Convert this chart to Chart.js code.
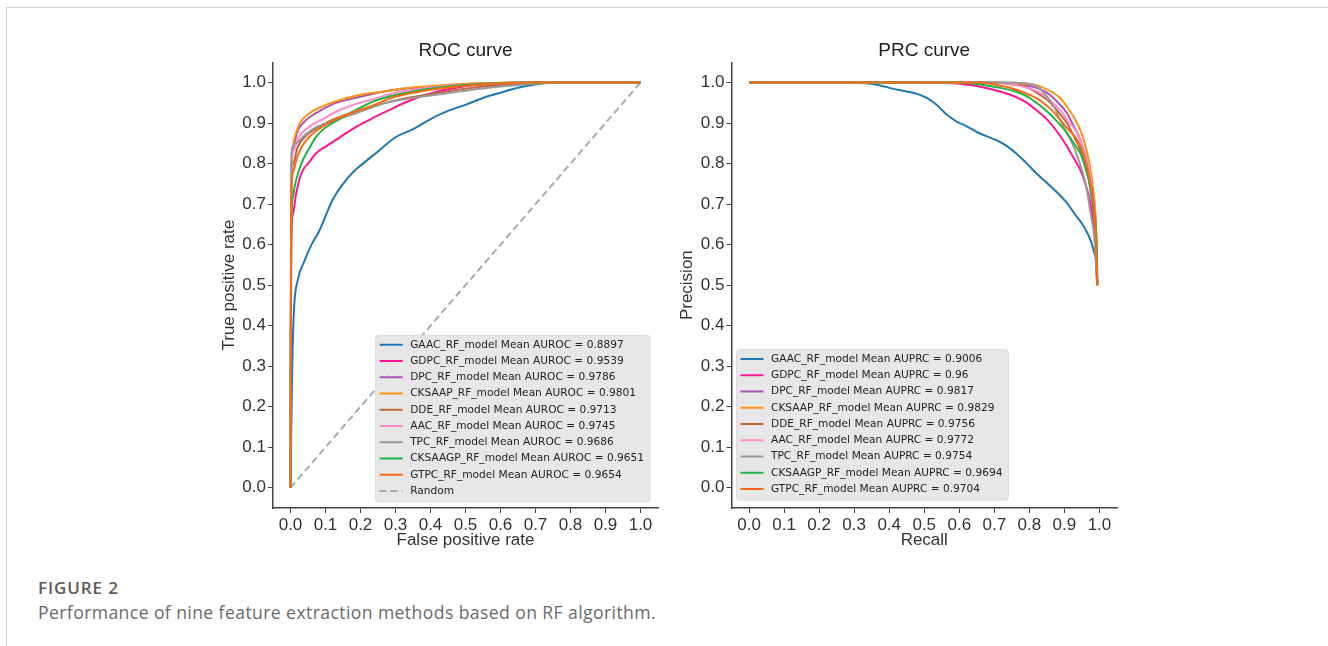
<!DOCTYPE html>
<html>
<head>
<meta charset="utf-8">
<script src="https://cdn.jsdelivr.net/npm/chart.js@4.4.1/dist/chart.umd.min.js"></script>
<style>
  html, body { margin: 0; padding: 0; background: #fff; }
  body { width: 1328px; height: 646px; position: relative; overflow: hidden; }
  .frame { position: absolute; left: 6px; top: 7px; right: 0; bottom: 0; border-top: 1px solid #d2d2d2; border-left: 1px solid #d2d2d2; }
  canvas { position: absolute; }
  #roc { left: 180px; top: 20px; }
  #prc { left: 640px; top: 20px; }
  .fig-no { position: absolute; left: 38px; top: 578px; font: 600 17px/20px "Open Sans", sans-serif; letter-spacing: 0.9px; color: #5a5a5a; }
  .fig-cap { position: absolute; left: 38px; top: 602px; font: 400 17.6px/20px "Open Sans", sans-serif; letter-spacing: 0.4px; color: #6a6a6a; }
</style>
</head>
<body>
<div class="frame"></div>
<canvas id="roc" width="500" height="540"></canvas>
<canvas id="prc" width="500" height="540"></canvas>
<div class="fig-no">FIGURE 2</div>
<div class="fig-cap">Performance of nine feature extraction methods based on RF algorithm.</div>
<script>
// --- DATA ---
const METHODS = ['GAAC', 'GDPC', 'DPC', 'CKSAAP', 'DDE', 'AAC', 'TPC', 'CKSAAGP', 'GTPC'];
const MEAN_AUROC = ['0.8897', '0.9539', '0.9786', '0.9801', '0.9713', '0.9745', '0.9686', '0.9651', '0.9654'];
const MEAN_AUPRC = ['0.9006', '0.96', '0.9817', '0.9829', '0.9756', '0.9772', '0.9754', '0.9694', '0.9704'];
const TICKS = [0.0, 0.1, 0.2, 0.3, 0.4, 0.5, 0.6, 0.7, 0.8, 0.9, 1.0];

// ROC curves: [false positive rate, true positive rate]
const rocGAAC = [[0,0],[0.005,0.3],[0.01,0.44],[0.02,0.51],[0.04,0.56],[0.06,0.6],[0.08,0.63],[0.1,0.67],[0.12,0.71],[0.15,0.75],[0.18,0.78],[0.2,0.795],[0.25,0.83],[0.3,0.865],[0.35,0.885],[0.4,0.91],[0.45,0.93],[0.5,0.945],[0.55,0.962],[0.6,0.975],[0.65,0.987],[0.7,0.995],[0.75,1],[1,1]];
const rocGDPC = [[0,0],[0.002,0.6],[0.008,0.68],[0.015,0.72],[0.025,0.76],[0.036,0.785],[0.05,0.8],[0.074,0.826],[0.1,0.842],[0.131,0.859],[0.16,0.876],[0.19,0.892],[0.23,0.91],[0.265,0.925],[0.3,0.94],[0.34,0.955],[0.38,0.968],[0.42,0.978],[0.46,0.985],[0.5,0.991],[0.6,0.997],[0.7,1],[1,1]];
const rocDPC = [[0,0],[0.002,0.75],[0.008,0.84],[0.02,0.88],[0.036,0.9],[0.055,0.915],[0.074,0.925],[0.1,0.938],[0.13,0.95],[0.19,0.963],[0.25,0.975],[0.3,0.982],[0.4,0.99],[0.5,0.996],[0.6,0.999],[0.7,1],[1,1]];
const rocCKSAAP = [[0,0],[0.002,0.76],[0.006,0.84],[0.012,0.865],[0.027,0.9],[0.055,0.925],[0.093,0.942],[0.13,0.954],[0.19,0.968],[0.265,0.978],[0.34,0.987],[0.42,0.993],[0.5,0.997],[0.6,0.999],[0.7,1],[1,1]];
const rocDDE = [[0,0],[0.002,0.74],[0.008,0.8],[0.02,0.84],[0.04,0.865],[0.07,0.885],[0.1,0.9],[0.15,0.918],[0.2,0.932],[0.25,0.945],[0.3,0.956],[0.4,0.972],[0.5,0.985],[0.6,0.994],[0.7,0.999],[0.8,1],[1,1]];
const rocAAC = [[0,0],[0.002,0.77],[0.008,0.83],[0.02,0.86],[0.036,0.878],[0.06,0.895],[0.093,0.91],[0.13,0.928],[0.17,0.942],[0.22,0.955],[0.26,0.965],[0.3,0.975],[0.4,0.988],[0.5,0.995],[0.6,0.999],[0.7,1],[1,1]];
const rocTPC = [[0,0],[0.003,0.83],[0.015,0.85],[0.036,0.867],[0.074,0.89],[0.13,0.908],[0.19,0.925],[0.265,0.948],[0.3,0.955],[0.4,0.968],[0.5,0.98],[0.6,0.99],[0.7,0.997],[0.8,1],[1,1]];
const rocCKSAAGP = [[0,0],[0.002,0.65],[0.008,0.72],[0.012,0.744],[0.025,0.785],[0.036,0.81],[0.055,0.84],[0.074,0.867],[0.09,0.882],[0.112,0.896],[0.14,0.91],[0.17,0.925],[0.2,0.938],[0.227,0.95],[0.284,0.966],[0.35,0.978],[0.45,0.99],[0.55,0.997],[0.65,1],[1,1]];
const rocGTPC = [[0,0],[0.002,0.72],[0.008,0.78],[0.017,0.81],[0.035,0.845],[0.055,0.867],[0.093,0.892],[0.15,0.917],[0.227,0.941],[0.303,0.966],[0.4,0.982],[0.5,0.992],[0.6,0.998],[0.7,1],[1,1]];
const rocRandom = [[0,0],[1,1]];

// PR curves: [recall, precision]
const prcGAAC = [[0,1],[0.1,1],[0.2,1],[0.3,0.999],[0.336,0.998],[0.374,0.993],[0.41,0.985],[0.45,0.978],[0.48,0.972],[0.507,0.962],[0.535,0.945],[0.564,0.921],[0.59,0.905],[0.621,0.892],[0.65,0.878],[0.679,0.867],[0.71,0.856],[0.736,0.843],[0.765,0.823],[0.793,0.8],[0.82,0.776],[0.85,0.752],[0.88,0.728],[0.907,0.703],[0.93,0.675],[0.955,0.645],[0.975,0.61],[0.985,0.58],[0.99,0.56],[0.993,0.5]];
const prcGDPC = [[0,1],[0.5,1],[0.584,0.998],[0.62,0.995],[0.67,0.988],[0.717,0.978],[0.76,0.965],[0.793,0.95],[0.82,0.932],[0.85,0.909],[0.88,0.878],[0.907,0.843],[0.93,0.808],[0.945,0.785],[0.96,0.75],[0.974,0.703],[0.985,0.64],[0.992,0.56],[0.994,0.5]];
const prcDPC = [[0,1],[0.7,1],[0.78,0.995],[0.82,0.987],[0.85,0.975],[0.88,0.952],[0.907,0.925],[0.925,0.895],[0.945,0.859],[0.955,0.825],[0.964,0.785],[0.975,0.73],[0.985,0.66],[0.994,0.5]];
const prcCKSAAP = [[0,1],[0.7,1],[0.77,0.998],[0.81,0.995],[0.84,0.987],[0.867,0.975],[0.89,0.96],[0.907,0.941],[0.93,0.91],[0.945,0.884],[0.958,0.85],[0.969,0.81],[0.977,0.77],[0.983,0.728],[0.99,0.65],[0.994,0.5]];
const prcDDE = [[0,1],[0.7,1],[0.75,0.995],[0.79,0.99],[0.82,0.975],[0.85,0.958],[0.88,0.93],[0.907,0.9],[0.93,0.862],[0.945,0.835],[0.96,0.79],[0.974,0.744],[0.985,0.67],[0.994,0.5]];
const prcAAC = [[0,1],[0.7,1],[0.78,0.99],[0.83,0.975],[0.86,0.955],[0.887,0.933],[0.91,0.905],[0.936,0.876],[0.95,0.845],[0.964,0.81],[0.975,0.76],[0.983,0.711],[0.99,0.64],[0.994,0.5]];
const prcTPC = [[0,1],[0.75,1],[0.81,0.995],[0.83,0.985],[0.85,0.966],[0.87,0.94],[0.887,0.909],[0.905,0.878],[0.926,0.843],[0.94,0.81],[0.955,0.769],[0.965,0.73],[0.974,0.68],[0.985,0.62],[0.994,0.5]];
const prcCKSAAGP = [[0,1],[0.6,1],[0.65,0.996],[0.717,0.987],[0.76,0.978],[0.793,0.966],[0.82,0.95],[0.85,0.929],[0.88,0.903],[0.907,0.876],[0.93,0.846],[0.945,0.826],[0.96,0.79],[0.974,0.744],[0.985,0.68],[0.992,0.6],[0.994,0.5]];
const prcGTPC = [[0,1],[0.65,1],[0.72,0.992],[0.76,0.983],[0.8,0.97],[0.827,0.958],[0.86,0.935],[0.887,0.909],[0.91,0.885],[0.936,0.859],[0.952,0.83],[0.964,0.794],[0.975,0.75],[0.983,0.711],[0.99,0.62],[0.994,0.5]];

const ROC_CURVES = [rocGAAC, rocGDPC, rocDPC, rocCKSAAP, rocDDE, rocAAC, rocTPC, rocCKSAAGP, rocGTPC];
const PRC_CURVES = [prcGAAC, prcGDPC, prcDPC, prcCKSAAP, prcDDE, prcAAC, prcTPC, prcCKSAAGP, prcGTPC];

// --- STYLE ---
const COLORS = ['#1f77b4', '#ff1493', '#a855b5', '#ff9214', '#b86a3c', '#ff8ccb', '#9a9a9a', '#1fb445', '#f96b14'];
const RANDOM_COLOR = '#aaaaaa';
const TEXT_COLOR = '#333';
const AXIS_FONT = 'Liberation Sans';

const toXY = pts => pts.map(p => ({ x: p[0], y: p[1] }));

// legend drawn inside the plot, matplotlib style
const legendBox = {
  id: 'legendBox',
  afterDatasetsDraw(chart, args, opts) {
    const { ctx, chartArea } = chart;
    const items = chart.data.datasets;
    ctx.save();
    ctx.font = '10.6px "DejaVu Sans"';
    const textW = Math.max(...items.map(d => ctx.measureText(d.label).width));
    const rowH = 16.25;
    const w = 4 + 23 + 7.5 + textW + 6;
    const h = 9.5 + rowH * (items.length - 1) + 11;
    const x = opts.side === 'right' ? chartArea.right - opts.inset - w : chartArea.left + opts.inset;
    const y = chartArea.bottom - opts.bottom - h;

    ctx.beginPath();
    ctx.roundRect(x, y, w, h, 3);
    ctx.fillStyle = 'rgba(229,229,229,0.92)';
    ctx.fill();
    ctx.strokeStyle = '#dcdcdc';
    ctx.lineWidth = 1;
    ctx.stroke();

    items.forEach((d, i) => {
      const cy = y + 9.5 + i * rowH;
      ctx.beginPath();
      ctx.setLineDash(d.borderDash || []);
      ctx.strokeStyle = d.borderColor;
      ctx.lineWidth = 2;
      ctx.moveTo(x + 4, cy);
      ctx.lineTo(x + 27, cy);
      ctx.stroke();
      ctx.setLineDash([]);
      ctx.fillStyle = '#222';
      ctx.textBaseline = 'middle';
      ctx.textAlign = 'left';
      ctx.fillText(d.label, x + 34.5, cy);
    });
    ctx.restore();
  }
};

function axis(title, fitKey, fitSize, titlePad) {
  return {
    type: 'linear',
    min: -0.05,
    max: 1.05,
    afterBuildTicks: s => { s.ticks = TICKS.map(v => ({ value: v })); },
    afterFit: s => { s[fitKey] = fitSize; },
    ticks: {
      autoSkip: false,
      maxRotation: 0,
      padding: 2,
      color: TEXT_COLOR,
      font: { family: AXIS_FONT, size: 17 },
      callback: v => v.toFixed(1)
    },
    grid: { display: true, drawOnChartArea: false, drawTicks: true, tickLength: 5, tickColor: '#444', tickWidth: 1 },
    border: { display: true, color: '#444', width: 1.5 },
    title: { display: true, text: title, color: TEXT_COLOR, font: { family: AXIS_FONT, size: 17 }, padding: titlePad }
  };
}

function makeChart(id, cfg) {
  return new Chart(document.getElementById(id), {
    type: 'line',
    data: { datasets: cfg.datasets },
    options: {
      responsive: false,
      animation: false,
      devicePixelRatio: 1,
      layout: { padding: { left: 0, right: cfg.padRight, top: 0, bottom: 0 } },
      elements: { point: { radius: 0 }, line: { borderWidth: 2, cubicInterpolationMode: 'monotone' } },
      scales: {
        x: axis(cfg.xTitle, 'height', 52, { top: 0, bottom: 9 }),
        y: axis(cfg.yTitle, 'width', cfg.yWidth, { top: cfg.yTitlePad, bottom: 0 })
      },
      plugins: {
        legend: { display: false },
        tooltip: { enabled: false },
        title: { display: true, text: cfg.title, fullSize: false, color: '#222', font: { family: AXIS_FONT, size: 19, weight: 'normal' }, padding: { top: 19.5, bottom: 0 } },
        legendBox: cfg.legend
      }
    },
    plugins: [legendBox]
  });
}

const n = METHODS.length;
const rocSets = ROC_CURVES.map((c, i) => ({
  label: `${METHODS[i]}_RF_model Mean AUROC = ${MEAN_AUROC[i]}`,
  data: toXY(c), borderColor: COLORS[i], backgroundColor: COLORS[i], order: n - i
}));
rocSets.push({ label: 'Random', data: toXY(rocRandom), borderColor: RANDOM_COLOR, borderDash: [7, 4], order: 100, cubicInterpolationMode: 'default' });

const prcSets = PRC_CURVES.map((c, i) => ({
  label: `${METHODS[i]}_RF_model Mean AUPRC = ${MEAN_AUPRC[i]}`,
  data: toXY(c), borderColor: COLORS[i], backgroundColor: COLORS[i], order: n - i
}));

makeChart('roc', {
  datasets: rocSets, title: 'ROC curve', xTitle: 'False positive rate', yTitle: 'True positive rate',
  padRight: 22, yWidth: 93, yTitlePad: 39, legend: { side: 'right', inset: 8, bottom: 6 }
});
makeChart('prc', {
  datasets: prcSets, title: 'PRC curve', xTitle: 'Recall', yTitle: 'Precision',
  padRight: 23, yWidth: 91.5, yTitlePad: 37, legend: { side: 'left', inset: 5, bottom: 8 }
});
</script>
</body>
</html>
